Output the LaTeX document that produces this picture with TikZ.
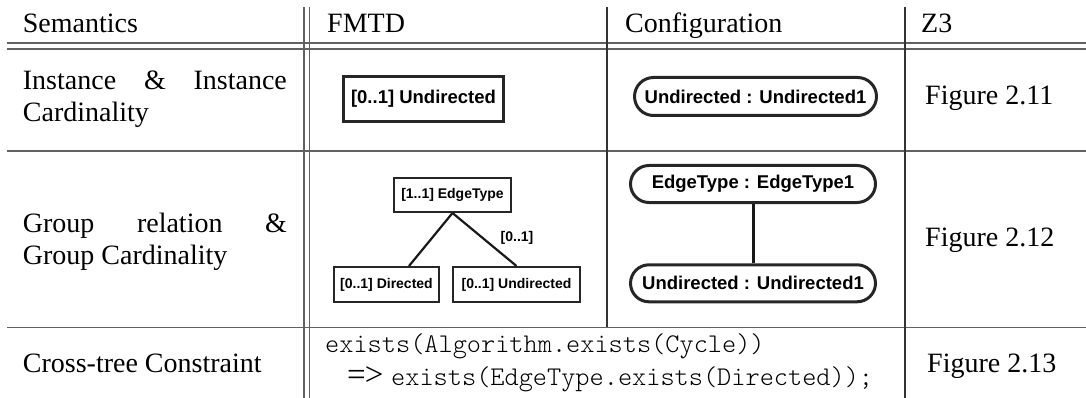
\documentclass[tikz,border=0pt]{standalone}
\usepackage{fontspec}
\setmainfont{Liberation Serif}
\setsansfont{Liberation Sans}
\newfontfamily\codefont{Latin Modern Mono Light}
\usetikzlibrary{calc}
\begin{document}
\begin{tikzpicture}[x=1pt,y=-1pt,
  hrule/.style={line width=1.6pt, black!62},
  vrule/.style={line width=1.3pt, black!80},
  cell/.style={inner sep=0pt, anchor=base west, font=\fontsize{28}{32}\selectfont},
  code/.style={inner sep=0pt, anchor=base west, font=\codefont\fontsize{27}{32}\selectfont},
  featbig/.style={draw=black!85, line width=3pt, inner sep=0pt,
    font=\sffamily\bfseries\fontsize{18.5}{20}\selectfont},
  feat/.style={draw=black!85, line width=2pt, inner sep=0pt,
    font=\sffamily\bfseries\fontsize{14}{16}\selectfont},
  inst/.style={draw=black!85, line width=3pt, inner sep=0pt, rounded corners=18.5pt,
    minimum width=245pt, minimum height=37pt,
    font=\sffamily\bfseries\fontsize{18.5}{20}\selectfont},
  link/.style={line width=2.2pt, black!90},
  ilink/.style={line width=3pt, black!90}
]
\useasboundingbox (0,0) rectangle (1086,398);

% table rules
\draw[hrule] (7,43.3) -- (1086,43.3);
\draw[hrule] (7,49) -- (1086,49);
\draw[hrule] (7,151) -- (1086,151);
\draw[hrule] (7,327.3) -- (1086,327.3);
\draw[vrule, black!62, line width=1.6pt] (304,7) -- (304,398);
\draw[vrule, black!62, line width=1.6pt] (309.5,7) -- (309.5,398);
\draw[vrule] (607,7) -- (607,327.3);
\draw[vrule] (905,7) -- (905,398);

% header
\node[cell] (hsem) at (22.7,32.5) {Semantics};
\node[cell] (hfm) at (327,32.5) {FMTD};
\node[cell] (hcf) at (625,32.5) {Configuration};
\node[cell] (hz) at (921,32.5) {Z3};

% row 1
\node[cell] (s1a) at (22.7,89.5) {\makebox[264pt][s]{Instance \& Instance}};
\node[cell] (s1b) at (22.7,122) {Cardinality};
\node[featbig, minimum width=160pt, minimum height=45pt] (fm1) at (423.5,99) {[0..1] Undirected};
\node[inst, minimum width=242pt, minimum height=38pt, rounded corners=19pt] (cf1) at (755.5,96.5) {Undirected : Undirected1};
\node[cell] (z1) at (925,105) {Figure 2.11};

% row 2
\node[cell] (s2a) at (22.7,232) {\makebox[264pt][s]{Group relation \&}};
\node[cell] (s2b) at (22.7,264) {Group Cardinality};
\node[feat, minimum width=117pt, minimum height=34pt] (et) at (452.5,195) {[1..1] EdgeType};
\node[feat, minimum width=105pt, minimum height=35pt] (dl) at (386.5,284.5) {[0..1] Directed};
\node[feat, minimum width=127pt, minimum height=35pt] (ud) at (516.5,284.5) {[0..1] Undirected};
\draw[link] (et.south) -- ([xshift=22.5pt]dl.north);
\draw[link] (et.south) -- (ud.north);
\node[inner sep=0pt, font=\sffamily\bfseries\fontsize{14}{16}\selectfont] (gc) at (517,238) {[0..1]};
\node[inst] (cf2) at (753,184) {EdgeType : EdgeType1};
\node[inst] (cf3) at (753,283.3) {Undirected : Undirected1};
\draw[ilink] (cf2.south) -- (cf3.north);
\node[cell] (z2) at (925,246) {Figure 2.12};

% row 3
\node[cell] (s3) at (22.7,372) {Cross-tree Constraint};
\node[code] (c1) at (325,352) {exists(Algorithm.exists(Cycle))};
\node[cell, font=\fontsize{33}{36}\selectfont] (c2op) at (347,385) {=\kern-1pt>};
\node[code] (c2) at (391,385) {exists(EdgeType.exists(Directed));};
\node[cell] (z3) at (927,372) {Figure 2.13};
\end{tikzpicture}
\end{document}
